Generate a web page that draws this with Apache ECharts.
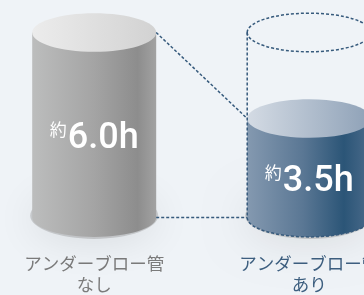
<!DOCTYPE html>
<html><head><meta charset="utf-8">
<script src="https://cdn.jsdelivr.net/npm/echarts@6/dist/echarts.min.js"></script>
<style>html,body{margin:0;padding:0;background:#eff3f7}#c{width:364px;height:295px}</style>
</head><body><div id="c"></div>
<script>
const categories = ['アンダーブロー管\nなし', 'アンダーブロー管\nあり'];
const values = [6.0, 3.5];
const valueLabels = ['6.0h', '3.5h'];
const valuePrefix = '約';
const labelColors = ['#7b7b7b', '#3d5f80'];

const Y_MIN = 0.62, Y_MAX = 6.0;
const RX = 62, RY = 19.3;
const K = 0.5523;
const styles = [
  { body: [['0', '#bcbdbd'], ['0.5', '#a4a4a4'], ['0.85', '#8d8d8d'], ['1', '#a2a2a2']],
    top: [['0', '#ececec'], ['1', '#d2d2d2']] },
  { body: [['0', '#8499b0'], ['0.45', '#5a7794'], ['0.78', '#2b5577'], ['1', '#4b6b8b']],
    top: [['0', '#d4dbe4'], ['1', '#8ea1b7']] }
];
const DASH = { stroke: '#365a7c', lineWidth: 1.5, lineDash: [3, 2], fill: 'none' };

function grad(stops) {
  return new echarts.graphic.LinearGradient(0, 0, 1, 0, stops.map(s => ({ offset: +s[0], color: s[1] })));
}
function halfBottom(cx, cy) {
  return 'C' + (cx - RX) + ',' + (cy + K * RY) + ' ' + (cx - K * RX) + ',' + (cy + RY) + ' ' + cx + ',' + (cy + RY) +
    ' C' + (cx + K * RX) + ',' + (cy + RY) + ' ' + (cx + RX) + ',' + (cy + K * RY) + ' ' + (cx + RX) + ',' + cy;
}

function renderItem(params, api) {
  const i = params.dataIndex;
  const top = api.coord([i, api.value(1)]);
  const base = api.coord([i, Y_MIN]);
  const cx = top[0], yT = top[1], yB = base[1];
  const st = styles[i];
  const children = [];
  children.push({ type: 'ellipse', shape: { cx: cx, cy: yB - 2, rx: RX + 2, ry: RY + 4 },
    style: { fill: 'rgba(120,120,120,0.3)', shadowBlur: 40, shadowColor: 'rgba(0,0,0,0.32)', shadowOffsetY: 3 } });
  const bodyPath = 'M' + (cx - RX) + ',' + yT + ' L' + (cx - RX) + ',' + yB + ' ' + halfBottom(cx, yB) + ' L' + (cx + RX) + ',' + yT + ' Z';
  children.push({ type: 'path', shape: { pathData: bodyPath }, style: { fill: grad(st.body) } });
  children.push({ type: 'ellipse', shape: { cx: cx, cy: yT, rx: RX, ry: RY }, style: { fill: grad(st.top) } });
  if (i > 0) {
    const ref = api.coord([0, values[0]]);
    const refBase = api.coord([0, Y_MIN]);
    const yG = ref[1];
    children.push({ type: 'ellipse', shape: { cx: cx, cy: yG, rx: RX, ry: RY }, style: Object.assign({}, DASH) });
    children.push({ type: 'line', shape: { x1: cx - RX, y1: yG, x2: cx - RX, y2: yB }, style: Object.assign({}, DASH) });
    children.push({ type: 'line', shape: { x1: cx + RX, y1: yG, x2: cx + RX, y2: yB }, style: Object.assign({}, DASH) });
    children.push({ type: 'path', shape: { pathData: 'M' + (cx - RX) + ',' + yB + ' ' + halfBottom(cx, yB) }, style: Object.assign({}, DASH) });
    children.push({ type: 'line', shape: { x1: ref[0] + RX, y1: yG, x2: cx - RX, y2: yT }, style: Object.assign({}, DASH) });
    children.push({ type: 'line', shape: { x1: ref[0] + RX, y1: refBase[1], x2: cx - RX, y2: yB }, style: Object.assign({}, DASH) });
  }
  children.push({ type: 'text', style: {
    x: cx, y: (yT + yB) / 2 + 14, align: 'center', verticalAlign: 'middle',
    text: '{a|' + valuePrefix + '}{b|' + valueLabels[i] + '}',
    fill: '#fff',
    rich: {
      a: { fontSize: 17, fontFamily: 'Noto Sans CJK JP', color: '#fff', verticalAlign: 'top', lineHeight: 17, padding: [0, 1, 0, 0] },
      b: { fontSize: 36, fontWeight: 500, fontFamily: 'Roboto', color: '#fff', lineHeight: 36 }
    }
  } });
  return { type: 'group', children: children };
}

const chart = echarts.init(document.getElementById('c'), null, { renderer: 'canvas' });
chart.setOption({
  backgroundColor: '#eff3f7',
  animation: false,
  grid: { left: -13.3, right: -52.7, top: 32.5, bottom: 77.4, containLabel: false, outerBoundsMode: 'none' },
  xAxis: {
    type: 'category', data: categories,
    axisLine: { show: false }, axisTick: { show: false }, splitLine: { show: false },
    axisLabel: { interval: 0, margin: 35, fontSize: 17.5, lineHeight: 21, fontFamily: 'Noto Sans CJK JP',
      hideOverlap: false, color: (v, idx) => labelColors[idx] }
  },
  yAxis: { type: 'value', min: Y_MIN, max: Y_MAX, show: false, splitLine: { show: false } },
  series: [{
    type: 'custom', clip: false, renderItem: renderItem,
    encode: { x: 0, y: 1 },
    data: values.map((v, i) => [i, v])
  }]
});
</script></body></html>
